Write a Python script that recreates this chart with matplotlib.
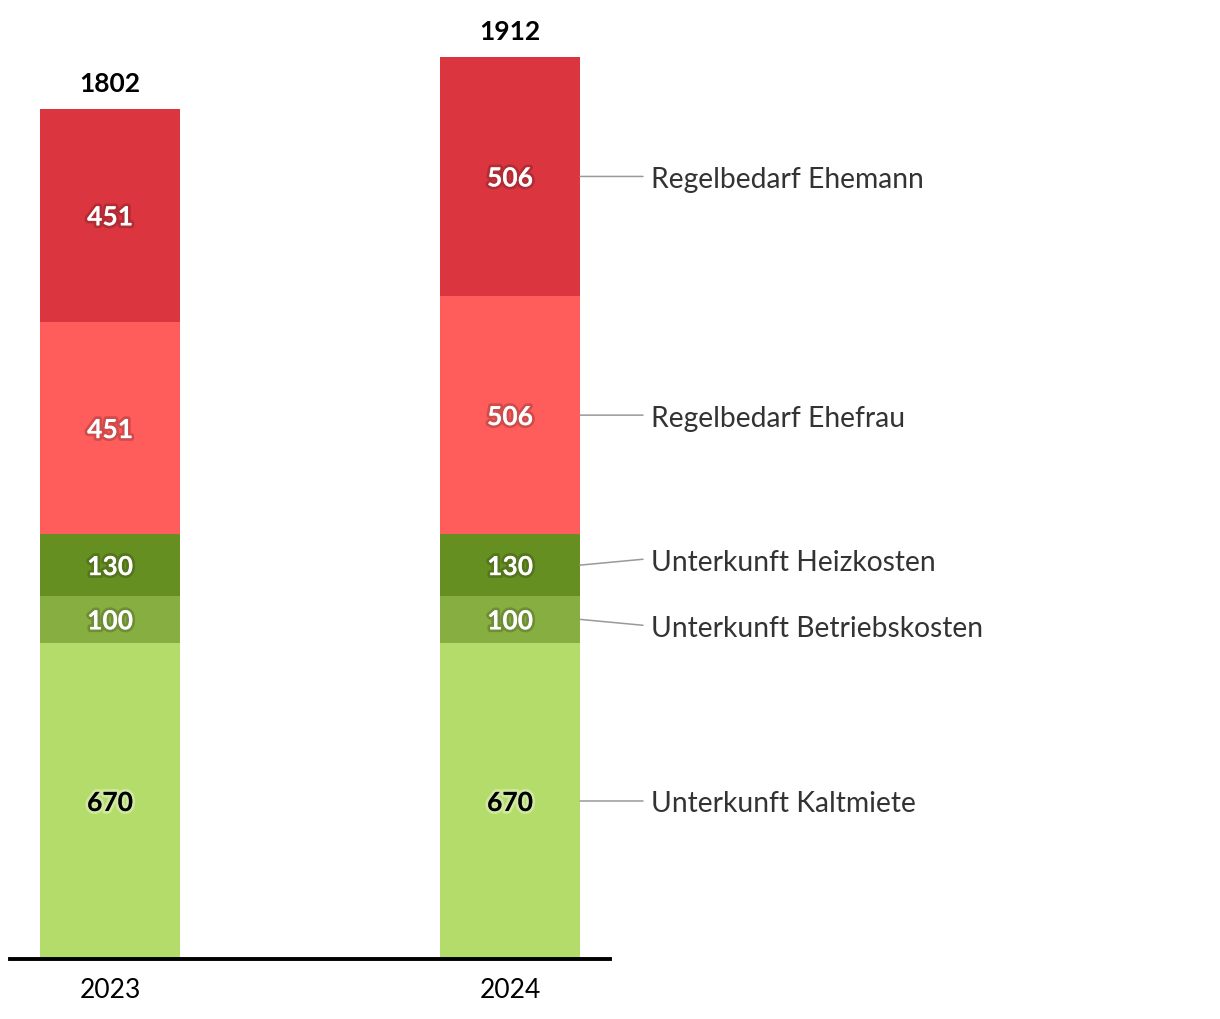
import matplotlib.pyplot as plt
import matplotlib.patheffects as pe
import numpy as np

years = ['2023', '2024']
series = ['Unterkunft Kaltmiete', 'Unterkunft Betriebskosten', 'Unterkunft Heizkosten',
          'Regelbedarf Ehefrau', 'Regelbedarf Ehemann']
values = {
    'Unterkunft Kaltmiete': [670, 670],
    'Unterkunft Betriebskosten': [100, 100],
    'Unterkunft Heizkosten': [130, 130],
    'Regelbedarf Ehefrau': [451, 506],
    'Regelbedarf Ehemann': [451, 506],
}
colors = ['#b4dc6a', '#87ae41', '#668f22', '#ff5c5c', '#db3540']
dark_text = [True, False, False, False, False]

plt.rcParams['font.family'] = ['Lato', 'DejaVu Sans']

fig = plt.figure(figsize=(12.2, 10.2), dpi=100)
W, H = 1220, 1020
ax = fig.add_axes([10 / W, 1 - 960 / H, 600 / W, 960 / H])

x = np.arange(len(years))
width = 0.35
bottom = np.zeros(len(years))
centers = {}
for s, c, dk in zip(series, colors, dark_text):
    v = np.array(values[s])
    ax.bar(x, v, width, bottom=bottom, color=c, linewidth=0)
    for i in range(len(years)):
        yc = bottom[i] + v[i] / 2
        if dk:
            ax.text(x[i], yc, str(v[i]), ha='center', va='center_baseline', fontsize=19,
                    fontweight='bold', color='black',
                    path_effects=[pe.withStroke(linewidth=4, foreground=(1, 1, 1, 0.35))])
        else:
            ax.text(x[i], yc, str(v[i]), ha='center', va='center_baseline', fontsize=19,
                    fontweight='bold', color='white',
                    path_effects=[pe.withStroke(linewidth=4, foreground=(0, 0, 0, 0.18))])
    centers[s] = bottom[-1] + v[-1] / 2
    bottom = bottom + v

totals = bottom
for i in range(len(years)):
    ax.annotate(str(int(totals[i])), (x[i], totals[i]), xytext=(0, 20.5),
                textcoords='offset points', ha='center', va='center_baseline',
                fontsize=19, fontweight='bold', color='black')

# label positions: spread the two small segments apart
label_y = dict(centers)
a, b = 'Unterkunft Heizkosten', 'Unterkunft Betriebskosten'
gap = 140
if label_y[a] - label_y[b] < gap:
    mid = (label_y[a] + label_y[b]) / 2
    label_y[a] = mid + gap / 2
    label_y[b] = mid - gap / 2

x_end = x[-1] + width / 2
for s in series:
    ax.annotate('', xy=(x_end, centers[s]), xytext=(x_end + 0.1575, label_y[s]),
                arrowprops=dict(arrowstyle='-', color='#999999', lw=1.1,
                                shrinkA=0, shrinkB=0), annotation_clip=False)
    ax.text(x_end + 0.1775, label_y[s], s, ha='left', va='center_baseline', fontsize=20.3,
            color='#333333', clip_on=False)

ax.set_xlim(-0.25, 1.25)
ax.set_ylim(0, 960 / (850 / 1802))
ax.set_xticks(x)
ax.set_xticklabels(years, fontsize=19)
ax.tick_params(axis='x', length=0, pad=13)
ax.set_yticks([])
for sp in ['top', 'left', 'right']:
    ax.spines[sp].set_visible(False)
ax.spines['bottom'].set_linewidth(2.8)
ax.spines['bottom'].set_color('black')

fig.savefig('out.png', dpi=100)
